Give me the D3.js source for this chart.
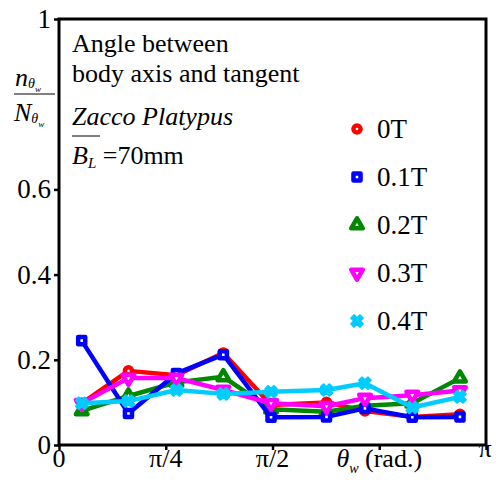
<!DOCTYPE html>
<html><head>
<script src="https://cdn.jsdelivr.net/npm/d3@7"></script>
</head><body style="margin:0"><svg id="c" width="498" height="481"></svg>
<script>
// Bin centres (radians)
const thetas = [0.167, 0.511, 0.864, 1.209, 1.560, 1.968, 2.251, 2.599, 2.950];
const seriesNames = ["0T", "0.1T", "0.2T", "0.3T", "0.4T"];
const v0T  = [0.098, 0.174, 0.164, 0.216, 0.094, 0.100, 0.080, 0.066, 0.072];
const v01T = [0.245, 0.074, 0.168, 0.212, 0.065, 0.066, 0.086, 0.065, 0.066];
const v02T = [0.080, 0.115, 0.147, 0.160, 0.084, 0.078, 0.092, 0.098, 0.157];
const v03T = [0.098, 0.157, 0.157, 0.129, 0.098, 0.091, 0.110, 0.117, 0.128];
const v04T = [0.098, 0.103, 0.129, 0.120, 0.125, 0.129, 0.145, 0.088, 0.113];
const colors = ["#ff0000", "#0000ff", "#008800", "#ff00ff", "#00ccff"];
const yTicks = [0, 0.2, 0.4, 0.6, 1];
const yTickLabels = ["0", "0.2", "0.4", "0.6", "1"];
const xTicks = [0, Math.PI/4, Math.PI/2, 3*Math.PI/4, Math.PI];
const xTickLabels = ["0", "π/4", "π/2", "θw (rad.)", "π"];

const FONT = "Times New Roman";
const allVals = [v0T, v01T, v02T, v03T, v04T];
const svg = d3.select("#c");
const L = 59, R = 486, T = 19, B = 445;
const x = d3.scaleLinear().domain([0, Math.PI]).range([L, R]);
const y = d3.scaleLinear().domain([0, 1]).range([B, T]);

function txt(g, tx, ty, size) {
  return g.append("text").attr("x", tx).attr("y", ty).attr("font-family", FONT)
    .attr("font-size", size);
}
function ts(t, s) {
  return t.append("tspan").attr("font-family", FONT).text(s);
}

// frame
svg.append("rect").attr("x", L).attr("y", T).attr("width", R-L).attr("height", B-T)
  .attr("fill", "none").attr("stroke", "#000").attr("stroke-width", 3);

// y axis ticks
const ya = svg.append("g").attr("transform", `translate(${L},0)`)
  .call(d3.axisLeft(y).tickValues(yTicks).tickSize(5).tickFormat(""));
ya.select(".domain").remove();
ya.selectAll("line").attr("stroke-width", 2.5);
ya.selectAll("text").remove();
yTicks.forEach((t, i) => {
  txt(svg, L - 8, y(t) + 9, 27).attr("text-anchor", "end").text(yTickLabels[i]);
});

// x axis ticks
const xa = svg.append("g").attr("transform", `translate(0,${B})`)
  .call(d3.axisBottom(x).tickValues(xTicks).tickSize(5).tickFormat(""));
xa.select(".domain").remove();
xa.selectAll("line").attr("stroke-width", 2.5);
xa.selectAll("text").remove();
xTicks.forEach((t, i) => {
  const lab = xTickLabels[i];
  if (lab.startsWith("θ")) {
    const tx = txt(svg, x(t), 467, 26).attr("text-anchor", "middle");
    ts(tx, "θ").attr("font-style", "italic");
    ts(tx, "w").attr("font-style", "italic").attr("font-size", 14).attr("dy", 6);
    ts(tx, " (rad.)").attr("dy", -6);
  } else if (lab === "π") {
    txt(svg, x(t) - 1, 457, 26).attr("text-anchor", "middle").text(lab);
  } else {
    txt(svg, x(t), 467, 26).attr("text-anchor", "middle").text(lab);
  }
});

// y label fraction
const n1 = txt(svg, 15, 86, 26);
ts(n1, "n").attr("font-style", "italic");
ts(n1, "θ").attr("font-style", "italic").attr("font-size", 14).attr("dy", 2);
ts(n1, "w").attr("font-style", "italic").attr("font-size", 9).attr("dy", 4);
svg.append("line").attr("x1", 14).attr("x2", 55).attr("y1", 94).attr("y2", 94).attr("stroke", "#000").attr("stroke-width", 1);
const n2 = txt(svg, 14, 121, 26);
ts(n2, "N").attr("font-style", "italic");
ts(n2, "θ").attr("font-style", "italic").attr("font-size", 14).attr("dy", 2);
ts(n2, "w").attr("font-style", "italic").attr("font-size", 9).attr("dy", 4);

// annotation
txt(svg, 72, 52, 26).text("Angle between");
txt(svg, 72, 82, 26).text("body axis and tangent");
txt(svg, 72, 125, 26).attr("font-style", "italic").text("Zacco Platypus");
svg.append("line").attr("x1", 72).attr("x2", 100).attr("y1", 136).attr("y2", 136).attr("stroke", "#000").attr("stroke-width", 1);
const bl = txt(svg, 72, 164, 26);
ts(bl, "B").attr("font-style", "italic");
ts(bl, "L").attr("font-style", "italic").attr("font-size", 15).attr("dy", 4);
ts(bl, " =70mm").attr("dy", -4);

// series
const symTypes = [d3.symbolCircle, d3.symbolSquare, d3.symbolTriangle, d3.symbolTriangle, d3.symbolCross];
const symSizes = [40, 50, 58, 58, 85];
const symRot = [0, 0, 0, 180, 45];
function drawMarker(g, i, cx, cy) {
  const p = g.append("path").attr("d", d3.symbol().type(symTypes[i]).size(symSizes[i])())
    .attr("transform", `translate(${cx},${cy}) rotate(${symRot[i]})`);
  if (i === 4) p.attr("fill", colors[i]).attr("stroke", colors[i]).attr("stroke-width", 2).attr("stroke-linejoin", "round");
  else p.attr("fill", "#fff").attr("stroke", colors[i]).attr("stroke-width", 4.5).attr("stroke-linejoin", "round");
}
const order = [0, 2, 1, 3, 4];
const line = d3.line().x((d, j) => x(thetas[j])).y(d => y(d));
order.forEach(i => {
  const g = svg.append("g");
  g.append("path").attr("d", line(allVals[i])).attr("fill", "none").attr("stroke", colors[i])
    .attr("stroke-width", 4.5).attr("stroke-linejoin", "round");
  allVals[i].forEach((v, j) => drawMarker(g, i, x(thetas[j]), y(v)));
});

// legend
const lg = svg.append("g");
seriesNames.forEach((nm, i) => {
  const cy = 129 + i * 48;
  drawMarker(lg, i, 357, cy);
  txt(lg, 377, cy + 9, 27).text(nm);
});
</script></body></html>
